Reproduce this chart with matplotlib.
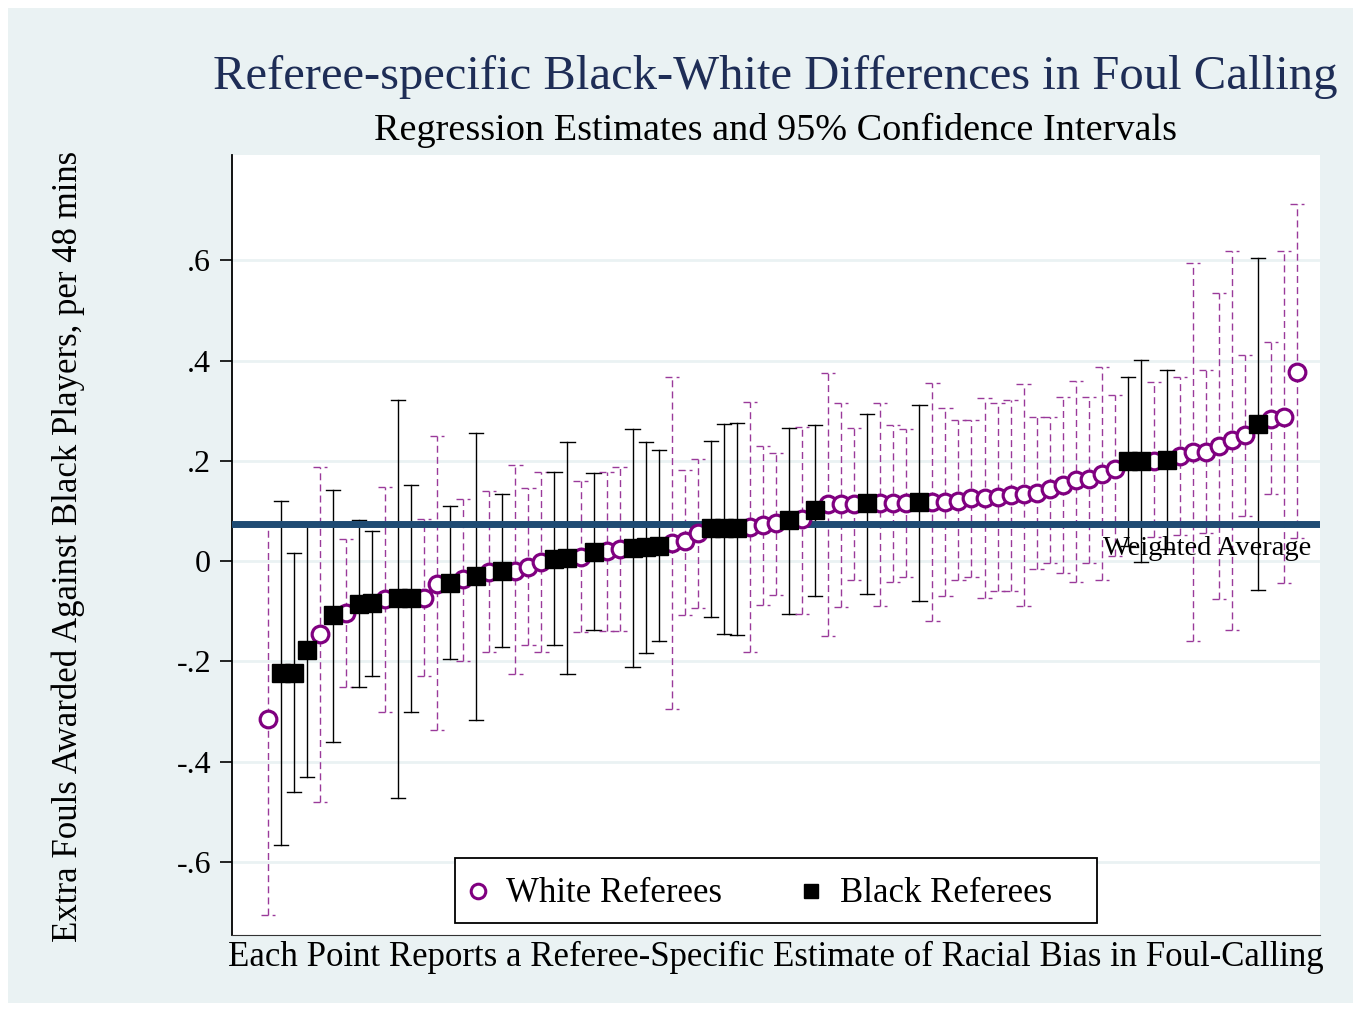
import matplotlib
matplotlib.use("Agg")
import matplotlib.pyplot as plt
from matplotlib.lines import Line2D
from matplotlib.patches import Rectangle

plt.rcParams['font.family'] = ['Liberation Serif', 'DejaVu Serif']

# referee rank (sorted by estimate), group, estimate and 95% CI
grupo = ['W', 'B', 'B', 'B', 'W', 'B', 'W', 'B', 'B', 'W',
         'B', 'B', 'W', 'W', 'B', 'W', 'B', 'W', 'B', 'W',
         'W', 'W', 'B', 'B', 'W', 'B', 'W', 'W', 'B', 'B',
         'B', 'W', 'W', 'W', 'B', 'B', 'B', 'W', 'W', 'W',
         'B', 'W', 'B', 'W', 'W', 'W', 'B', 'W', 'W', 'W',
         'B', 'W', 'W', 'W', 'W', 'W', 'W', 'W', 'W', 'W',
         'W', 'W', 'W', 'W', 'W', 'W', 'B', 'B', 'W', 'B',
         'W', 'W', 'W', 'W', 'W', 'W', 'B', 'W', 'W', 'W']
estimado = [-0.316, -0.223, -0.223, -0.177, -0.146, -0.108, -0.103, -0.085, -0.084, -0.076,
            -0.074, -0.074, -0.073, -0.045, -0.043, -0.036, -0.030, -0.022, -0.019, -0.020,
            -0.011, -0.002, 0.005, 0.007, 0.008, 0.019, 0.020, 0.024, 0.026, 0.028,
            0.031, 0.036, 0.039, 0.055, 0.065, 0.065, 0.065, 0.068, 0.071, 0.075,
            0.082, 0.083, 0.101, 0.113, 0.113, 0.113, 0.115, 0.115, 0.115, 0.116,
            0.117, 0.117, 0.118, 0.120, 0.126, 0.126, 0.128, 0.131, 0.133, 0.135,
            0.143, 0.152, 0.162, 0.164, 0.174, 0.184, 0.200, 0.200, 0.200, 0.202,
            0.210, 0.217, 0.217, 0.230, 0.242, 0.251, 0.273, 0.284, 0.288, 0.378]
inferior = [-0.707, -0.567, -0.460, -0.431, -0.481, -0.360, -0.252, -0.251, -0.229, -0.302,
            -0.472, -0.302, -0.229, -0.337, -0.195, -0.200, -0.318, -0.181, -0.171, -0.226,
            -0.167, -0.182, -0.167, -0.225, -0.142, -0.138, -0.140, -0.140, -0.212, -0.183,
            -0.159, -0.295, -0.107, -0.093, -0.111, -0.145, -0.147, -0.182, -0.088, -0.068,
            -0.105, -0.105, -0.070, -0.150, -0.092, -0.038, -0.065, -0.090, -0.041, -0.031,
            -0.080, -0.120, -0.070, -0.038, -0.031, -0.073, -0.060, -0.060, -0.090, -0.016,
            -0.004, -0.024, -0.041, -0.004, -0.038, 0.010, 0.030, -0.001, 0.048, 0.025,
            0.051, -0.159, 0.055, -0.075, -0.137, 0.090, -0.057, 0.133, -0.043, 0.046]
superior = [0.071, 0.119, 0.016, 0.076, 0.187, 0.142, 0.043, 0.081, 0.060, 0.147,
            0.321, 0.152, 0.084, 0.250, 0.109, 0.123, 0.256, 0.139, 0.134, 0.191,
            0.145, 0.178, 0.177, 0.238, 0.160, 0.175, 0.177, 0.188, 0.264, 0.238,
            0.222, 0.367, 0.182, 0.204, 0.240, 0.273, 0.276, 0.318, 0.229, 0.215,
            0.266, 0.268, 0.271, 0.375, 0.316, 0.266, 0.293, 0.316, 0.271, 0.263,
            0.311, 0.355, 0.306, 0.281, 0.281, 0.326, 0.316, 0.321, 0.353, 0.288,
            0.288, 0.328, 0.360, 0.328, 0.387, 0.331, 0.368, 0.402, 0.358, 0.382,
            0.368, 0.595, 0.382, 0.534, 0.618, 0.412, 0.605, 0.437, 0.618, 0.712]
promedio = 0.073
ticks_y = [0.6, 0.4, 0.2, 0.0, -0.2, -0.4, -0.6]
etiquetas_y = ['.6', '.4', '.2', '0', '-.2', '-.4', '-.6']

rango = list(range(1, len(estimado) + 1))
xw = [r for r, g in zip(rango, grupo) if g == 'W']
yw = [e for e, g in zip(estimado, grupo) if g == 'W']
xb = [r for r, g in zip(rango, grupo) if g == 'B']
yb = [e for e, g in zip(estimado, grupo) if g == 'B']

morado = '#800080'
morado_ci = '#9a3a9a'
azul = '#1f4b73'

W, H = 1361, 1011
def fx(p):
    return p / W
def fy(p):
    return 1 - p / H

fig = plt.figure(figsize=(13.61, 10.11), dpi=100, facecolor='white')
fig.patches.append(Rectangle((fx(8), fy(1003)), 1345 / W, 995 / H,
                             transform=fig.transFigure, facecolor='#eaf2f3',
                             edgecolor='none', zorder=-10))
ax = fig.add_axes([fx(232), fy(935), 1088 / W, 780 / H])
ax.set_facecolor('white')

# intervalos de confianza
cap = 0.55
for r, g, lo, hi in zip(rango, grupo, inferior, superior):
    if g == 'W':
        est = dict(color=morado_ci, lw=1.0, linestyle=(0, (5, 3)), zorder=2)
    else:
        est = dict(color='black', lw=1.0, linestyle='-', zorder=2)
    ax.plot([r, r], [lo, hi], **est)
    ax.plot([r - cap, r + cap], [lo, lo], **est)
    ax.plot([r - cap, r + cap], [hi, hi], **est)

ax.axhline(promedio, color=azul, lw=5, solid_capstyle='round', zorder=3)
ax.text(81.05, 0.026, 'Weighted Average', ha='right', va='center', fontsize=20.5, zorder=4)

ax.plot(xw, yw, 'o', ms=12, mfc='white', mec=morado, mew=2.3, zorder=5)
ax.plot(xb, yb, 's', ms=12.5, mfc='black', mec='black', zorder=6)

ax.set_xlim(-1.74, 81.74)
ax.set_ylim(-0.746, 0.81)
ax.set_yticks(ticks_y)
ax.set_yticklabels(etiquetas_y, fontsize=23)
ax.set_xticks([])
ax.grid(axis='y', color='#eaf2f3', lw=2)
ax.set_axisbelow(True)
for lado in ['top', 'right']:
    ax.spines[lado].set_visible(False)
ax.spines['bottom'].set_linewidth(0.8)
ax.spines['bottom'].set_color('#333333')
ax.spines['left'].set_linewidth(1.3)
ax.tick_params(axis='y', length=9, width=1.2, pad=6)

fig.text(fx(68), fy(546), 'Extra Fouls Awarded Against Black Players, per 48 mins',
         rotation=90, ha='center', va='center', fontsize=25)
fig.text(fx(776), fy(957), 'Each Point Reports a Referee-Specific Estimate of Racial Bias in Foul-Calling',
         ha='center', va='center', fontsize=25)

fig.text(fx(775), fy(89), 'Referee-specific Black-White Differences in Foul Calling',
         ha='center', va='baseline', fontsize=35, color='#1e2d56')
fig.text(fx(775), fy(140), 'Regression Estimates and 95% Confidence Intervals',
         ha='center', va='baseline', fontsize=27.5)

# leyenda dibujada a mano
fig.add_artist(Rectangle((fx(455), fy(923)), (1097 - 455) / W, (923 - 858) / H,
                         transform=fig.transFigure, facecolor='white',
                         edgecolor='black', lw=1.3, zorder=8))
fig.add_artist(Line2D([fx(478)], [fy(891)], marker='o', ls='none', ms=10.5, mfc='white',
                      mec=morado, mew=2.2, transform=fig.transFigure, zorder=9))
fig.add_artist(Line2D([fx(811)], [fy(891)], marker='s', ls='none', ms=10.5, mfc='black',
                      mec='black', transform=fig.transFigure, zorder=9))
fig.text(fx(506), fy(893), 'White Referees', ha='left', va='center', fontsize=25, zorder=9)
fig.text(fx(840), fy(893), 'Black Referees', ha='left', va='center', fontsize=25, zorder=9)

plt.savefig('out.png', dpi=100, facecolor='white')
